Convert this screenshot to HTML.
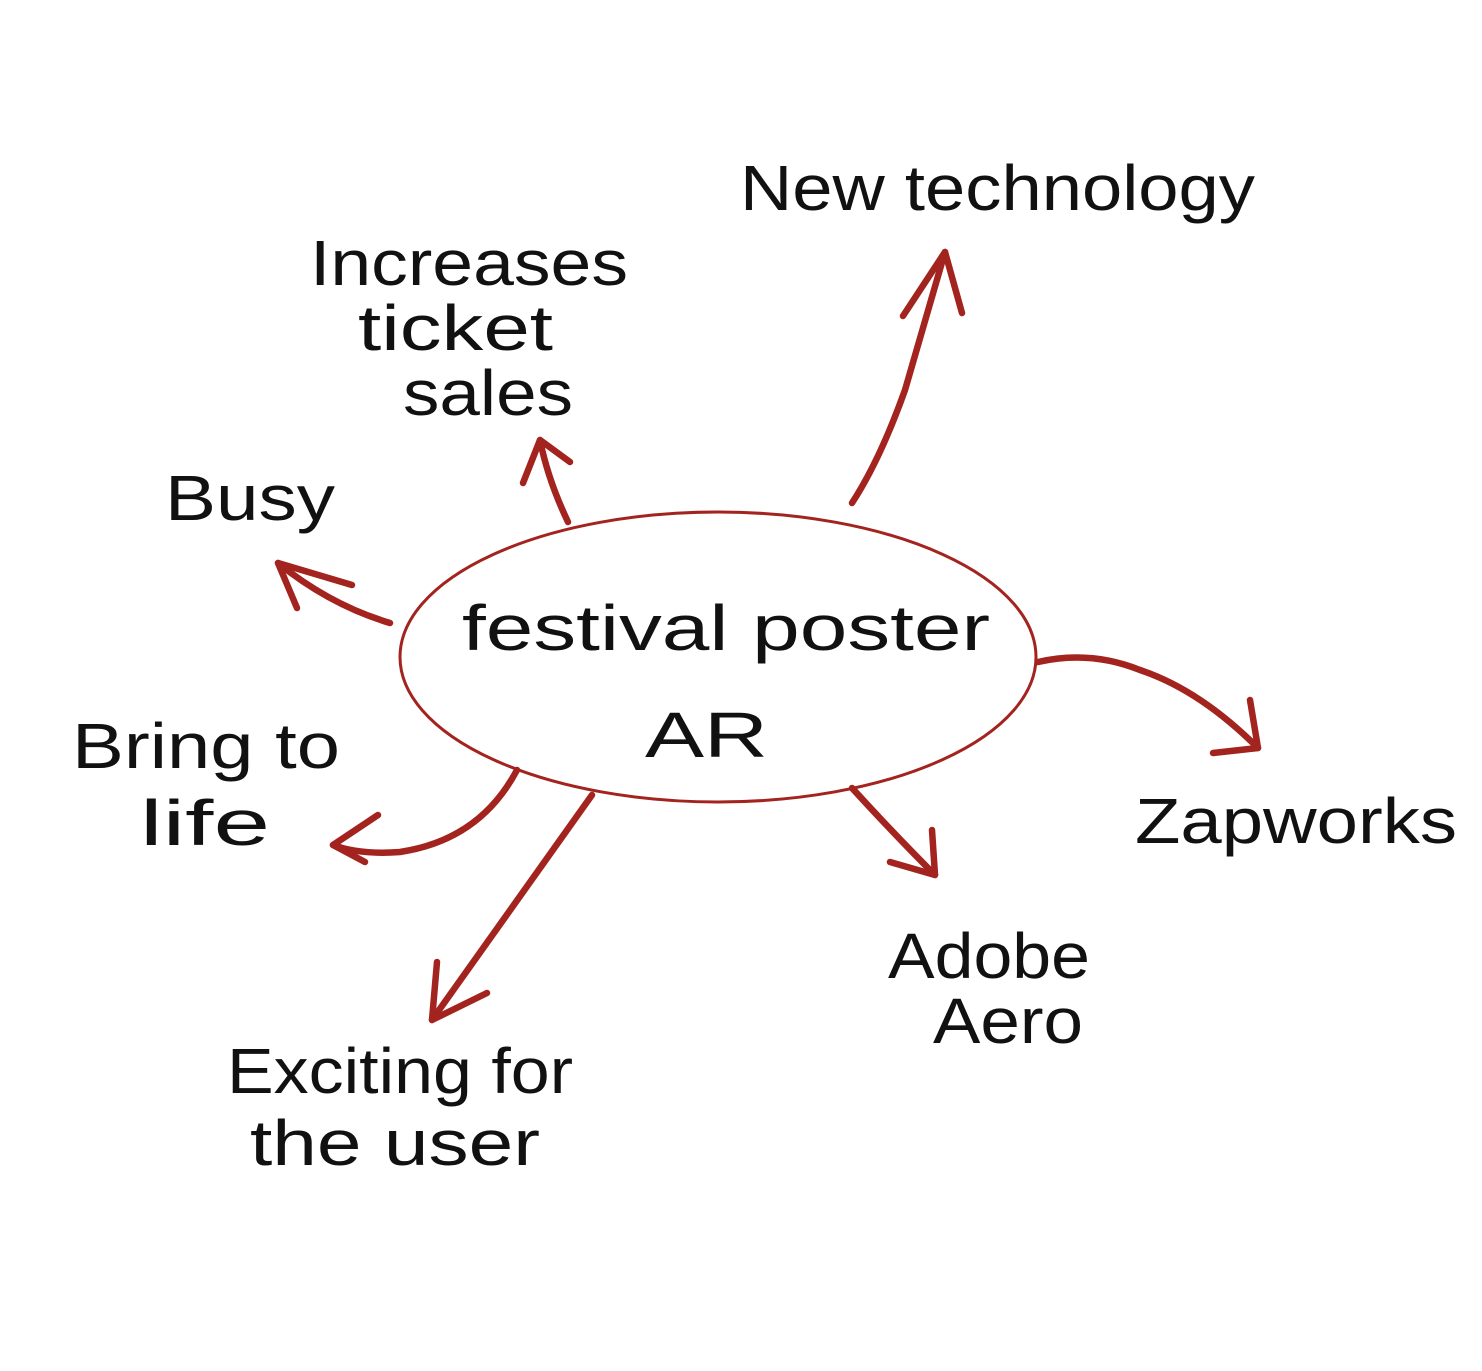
<!DOCTYPE html>
<html><head><meta charset="utf-8"><style>
html,body{margin:0;padding:0;background:#fff;}
svg{display:block;}
text{font-family:"Liberation Sans","DejaVu Sans",sans-serif;fill:#111;font-weight:normal;}
</style></head><body>
<svg width="1482" height="1371" viewBox="0 0 1482 1371" xmlns="http://www.w3.org/2000/svg">
<rect width="1482" height="1371" fill="#fff"/>
<ellipse cx="718" cy="657" rx="318" ry="145" fill="none" stroke="#a3231f" stroke-width="3"/>
<g fill="none" stroke="#a3231f" stroke-width="6.5" stroke-linecap="round" stroke-linejoin="round">
<path d="M852 503 Q880 460 905 390 Q925 320 945 252"/>
<path d="M903 316 L945 252 L962 313"/>
<path d="M568 522 Q548 480 540 440"/>
<path d="M523 483 L540 440 L570 462"/>
<path d="M390 623 Q330 605 278 563"/>
<path d="M297 608 L278 563 L352 585"/>
<path d="M517 770 Q480 840 400 852 Q360 855 333 845"/>
<path d="M378 815 L333 845 L365 862"/>
<path d="M592 795 Q510 910 432 1020"/>
<path d="M437 962 L432 1020 L487 993"/>
<path d="M852 788 Q895 835 935 875"/>
<path d="M890 862 L935 875 L932 830"/>
<path d="M1038 662 Q1090 650 1140 670 Q1200 690 1258 748"/>
<path d="M1213 753 L1258 748 L1250 700"/>
</g>
<g font-size="64">
<text x="740" y="210" textLength="515" lengthAdjust="spacingAndGlyphs">New technology</text>
<text x="310" y="285" textLength="318" lengthAdjust="spacingAndGlyphs">Increases</text>
<text x="358" y="350" textLength="195" lengthAdjust="spacingAndGlyphs">ticket</text>
<text x="403" y="415" textLength="170" lengthAdjust="spacingAndGlyphs">sales</text>
<text x="165" y="520" textLength="170" lengthAdjust="spacingAndGlyphs">Busy</text>
<text x="462" y="650" textLength="528" lengthAdjust="spacingAndGlyphs">festival poster</text>
<text x="645" y="757" textLength="123" lengthAdjust="spacingAndGlyphs">AR</text>
<text x="72" y="768" textLength="268" lengthAdjust="spacingAndGlyphs">Bring to</text>
<text x="140" y="845" textLength="130" lengthAdjust="spacingAndGlyphs">life</text>
<text x="1135" y="843" textLength="322" lengthAdjust="spacingAndGlyphs">Zapworks</text>
<text x="888" y="978" textLength="202" lengthAdjust="spacingAndGlyphs">Adobe</text>
<text x="933" y="1043" textLength="150" lengthAdjust="spacingAndGlyphs">Aero</text>
<text x="227" y="1093" textLength="346" lengthAdjust="spacingAndGlyphs">Exciting for</text>
<text x="250" y="1165" textLength="290" lengthAdjust="spacingAndGlyphs">the user</text>
</g>
</svg>
</body></html>
